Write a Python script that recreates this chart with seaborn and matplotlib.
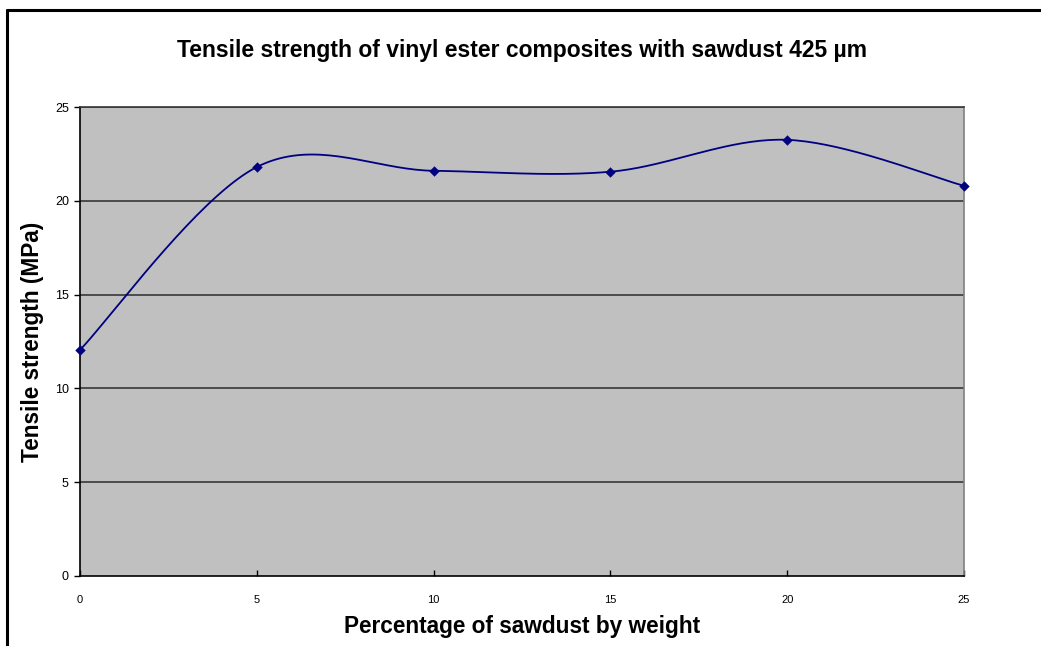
import numpy as np
import pandas as pd
import matplotlib
matplotlib.use("Agg")
import matplotlib.pyplot as plt
import seaborn as sns
from matplotlib.lines import Line2D

# Data
sawdust_pct = [0, 5, 10, 15, 20, 25]
tensile_mpa = [12.05, 21.8, 21.6, 21.55, 23.25, 20.8]
x_ticks = [0, 5, 10, 15, 20, 25]
y_ticks = [0, 5, 10, 15, 20, 25]
title = "Tensile strength of vinyl ester composites with sawdust 425 µm"
xlabel = "Percentage of sawdust by weight"
ylabel = "Tensile strength (MPa)"

sns.set_theme(style="white")
plt.rcParams['font.family'] = ['Liberation Sans', 'DejaVu Sans']
plt.rcParams['text.color'] = 'black'
plt.rcParams['axes.labelcolor'] = 'black'
plt.rcParams['xtick.color'] = 'black'
plt.rcParams['ytick.color'] = 'black'


def catmull_rom(xs, ys, n=40):
    """Excel-style smoothed line through the data points."""
    xs = np.asarray(xs, float)
    ys = np.asarray(ys, float)
    px = np.concatenate([[xs[0]], xs, [xs[-1]]])
    py = np.concatenate([[ys[0]], ys, [ys[-1]]])
    outx, outy = [], []
    for i in range(1, len(px) - 2):
        p0 = np.array([px[i - 1], py[i - 1]])
        p1 = np.array([px[i], py[i]])
        p2 = np.array([px[i + 1], py[i + 1]])
        p3 = np.array([px[i + 2], py[i + 2]])
        c1 = p1 + (p2 - p0) / 6.0
        c2 = p2 - (p3 - p1) / 6.0
        t = np.linspace(0, 1, n)[:, None]
        b = ((1 - t) ** 3) * p1 + 3 * ((1 - t) ** 2) * t * c1 + 3 * (1 - t) * t ** 2 * c2 + t ** 3 * p2
        outx.extend(b[:, 0])
        outy.extend(b[:, 1])
    return np.array(outx), np.array(outy)


sx, sy = catmull_rom(sawdust_pct, tensile_mpa)
smooth_df = pd.DataFrame({"x": sx, "y": sy})
pts_df = pd.DataFrame({"x": sawdust_pct, "y": tensile_mpa})

W, H = 1041, 646
fig = plt.figure(figsize=(W / 100, H / 100), dpi=100)
ax = fig.add_axes([80 / W, (H - 576) / H, (964 - 80) / W, (576 - 107) / H])
ax.set_facecolor("#C0C0C0")

for yv in y_ticks[1:]:
    ax.axhline(yv, color="#383838", lw=1.2, zorder=1)

sns.lineplot(data=smooth_df, x="x", y="y", ax=ax, color="#000080", lw=1.3,
             sort=False, zorder=3)
sns.scatterplot(data=pts_df, x="x", y="y", ax=ax, color="#000080", marker="D",
                s=28, edgecolor="#000080", linewidth=0, zorder=4, clip_on=False)

ax.set_xlim(0, 25)
ax.set_ylim(0, 25)
ax.set_xticks(x_ticks)
ax.set_yticks(y_ticks)
ax.set_xticklabels([str(v) for v in x_ticks])
ax.set_yticklabels([str(v) for v in y_ticks])
ax.tick_params(axis="x", direction="in", length=4, width=1, color="black",
               labelsize=8, pad=14, bottom=True)
ax.tick_params(axis="y", direction="out", length=4, width=1, color="black",
               labelsize=9, pad=4, left=True)

ax.set_xlabel(xlabel, fontsize=16.3, fontweight="bold")
ax.set_ylabel(ylabel, fontsize=16.3, fontweight="bold")
ax.xaxis.set_label_coords(0.5, (576 - 626) / 469)
ax.xaxis.label.set_va("center")
ax.yaxis.set_label_coords((33 - 80) / 884, 0.5)
ax.yaxis.label.set_va("center")

for side in ["left", "bottom"]:
    ax.spines[side].set_color("black")
    ax.spines[side].set_linewidth(1.2)
ax.spines["right"].set_color("#808080")
ax.spines["right"].set_linewidth(1.2)
ax.spines["top"].set_color("#383838")
ax.spines["top"].set_linewidth(1.2)

fig.text(522 / W, 1 - 50 / H, title, ha="center", va="center",
         fontsize=16.5, fontweight="bold", color="black")

# outer chart border (left and top visible)
fig.add_artist(Line2D([7 / W, 7 / W], [0, 1 - 10 / H], transform=fig.transFigure,
                      color="black", lw=2.2))
fig.add_artist(Line2D([7 / W, 1], [1 - 10 / H, 1 - 10 / H], transform=fig.transFigure,
                      color="black", lw=2.2))

fig.savefig("out.png", dpi=100, facecolor="white")
